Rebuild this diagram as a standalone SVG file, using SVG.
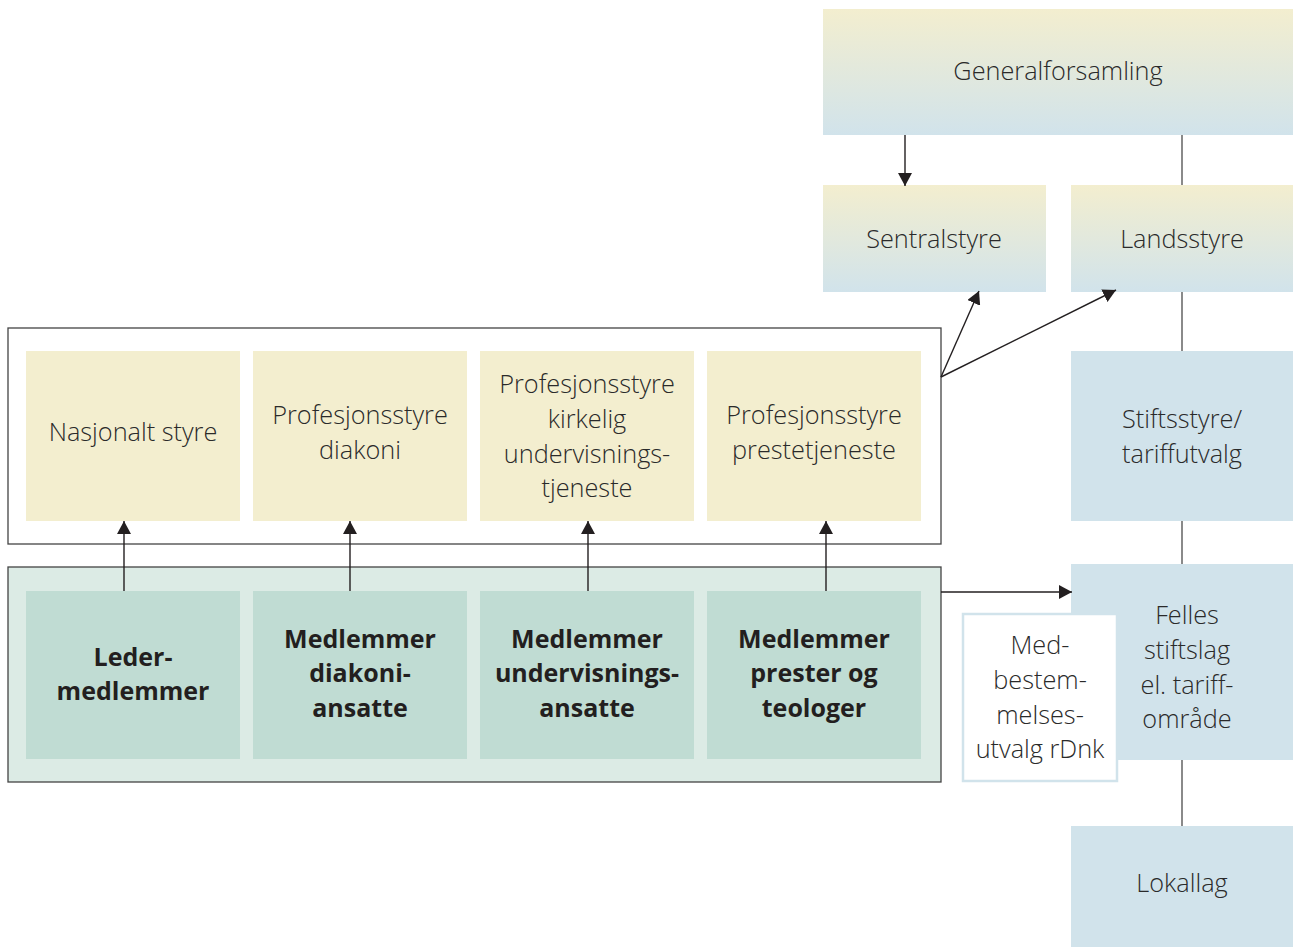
<svg xmlns="http://www.w3.org/2000/svg" width="1293" height="947" viewBox="0 0 1293 947">
<style>
.t{font-family:"Open Sans","Noto Sans",sans-serif;font-weight:300;font-size:25.3px;fill:#2a2a2a;text-anchor:middle}
.b{font-family:"Open Sans","Noto Sans",sans-serif;font-weight:700;font-size:25px;fill:#231f20;text-anchor:middle}
.y{fill:#f3eecf}
.g{fill:#c0dcd3}
.bl{fill:#d1e3eb}
.arr{stroke:#231f20;stroke-width:1.4;fill:none;marker-end:url(#ah)}
.conn{stroke:#8a8a8a;stroke-width:2;fill:none}
</style>
<defs>
<linearGradient id="grad" x1="0" y1="0" x2="0" y2="1">
<stop offset="0" stop-color="#f3eecf"/>
<stop offset="1" stop-color="#d1e3eb"/>
</linearGradient>
<marker id="ah" viewBox="0 0 13 14" refX="13" refY="7" markerWidth="13" markerHeight="14" markerUnits="userSpaceOnUse" orient="auto">
<path d="M0,0 L13,7 L0,14 z" fill="#231f20"/>
</marker>
</defs>

<g id="connectors">
<line class="conn" x1="1182" y1="135" x2="1182" y2="185"/>
<line class="conn" x1="1182" y1="292" x2="1182" y2="351"/>
<line class="conn" x1="1182" y1="521" x2="1182" y2="564"/>
<line class="conn" x1="1182" y1="760" x2="1182" y2="826"/>
</g>

<g id="generalforsamling">
<rect x="823" y="9" width="470" height="126" fill="url(#grad)"/>
<text class="t" x="1058" y="80">Generalforsamling</text>
</g>
<g id="sentralstyre">
<rect x="823" y="185" width="223" height="107" fill="url(#grad)"/>
<text class="t" x="934" y="248">Sentralstyre</text>
</g>
<g id="landsstyre">
<rect x="1071" y="185" width="222" height="107" fill="url(#grad)"/>
<text class="t" x="1182" y="248">Landsstyre</text>
</g>
<g id="stiftsstyre">
<rect class="bl" x="1071" y="351" width="222" height="170"/>
<text class="t" x="1182" y="428">Stiftsstyre/</text>
<text class="t" x="1182" y="463">tariffutvalg</text>
</g>
<g id="felles">
<rect class="bl" x="1071" y="564" width="222" height="196"/>
<text class="t" x="1187" y="624">Felles</text>
<text class="t" x="1187" y="659">stiftslag</text>
<text class="t" x="1187" y="694">el. tariff-</text>
<text class="t" x="1187" y="728">område</text>
</g>
<g id="medbestemmelse">
<rect x="963" y="614" width="154" height="167" fill="#fff" stroke="#d1e3eb" stroke-width="2.5"/>
<text class="t" x="1040" y="654">Med-</text>
<text class="t" x="1040" y="689">bestem-</text>
<text class="t" x="1040" y="724">melses-</text>
<text class="t" x="1040" y="758">utvalg rDnk</text>
</g>
<g id="lokallag">
<rect class="bl" x="1071" y="826" width="222" height="121"/>
<text class="t" x="1182" y="892">Lokallag</text>
</g>

<g id="styrer">
<rect x="8" y="328" width="933" height="216" fill="#fff" stroke="#444" stroke-width="1.3"/>
<g id="nasjonalt">
<rect class="y" x="26" y="351" width="214" height="170"/>
<text class="t" x="133" y="441">Nasjonalt styre</text>
</g>
<g id="prof-diakoni">
<rect class="y" x="253" y="351" width="214" height="170"/>
<text class="t" x="360" y="424">Profesjonsstyre</text>
<text class="t" x="360" y="459">diakoni</text>
</g>
<g id="prof-kirkelig">
<rect class="y" x="480" y="351" width="214" height="170"/>
<text class="t" x="587" y="393">Profesjonsstyre</text>
<text class="t" x="587" y="428">kirkelig</text>
<text class="t" x="587" y="463">undervisnings-</text>
<text class="t" x="587" y="497">tjeneste</text>
</g>
<g id="prof-prest">
<rect class="y" x="707" y="351" width="214" height="170"/>
<text class="t" x="814" y="424">Profesjonsstyre</text>
<text class="t" x="814" y="459">prestetjeneste</text>
</g>
</g>

<g id="medlemmer">
<rect x="8" y="567" width="933" height="215" fill="#dcebe5" stroke="#444" stroke-width="1.3"/>
<g id="leder">
<rect class="g" x="26" y="591" width="214" height="168"/>
<text class="b" x="133" y="666">Leder-</text>
<text class="b" x="133" y="700">medlemmer</text>
</g>
<g id="m-diakoni">
<rect class="g" x="253" y="591" width="214" height="168"/>
<text class="b" x="360" y="648">Medlemmer</text>
<text class="b" x="360" y="682">diakoni-</text>
<text class="b" x="360" y="717">ansatte</text>
</g>
<g id="m-undervisning">
<rect class="g" x="480" y="591" width="214" height="168"/>
<text class="b" x="587" y="648">Medlemmer</text>
<text class="b" x="587" y="682">undervisnings-</text>
<text class="b" x="587" y="717">ansatte</text>
</g>
<g id="m-prester">
<rect class="g" x="707" y="591" width="214" height="168"/>
<text class="b" x="814" y="648">Medlemmer</text>
<text class="b" x="814" y="682">prester og</text>
<text class="b" x="814" y="717">teologer</text>
</g>
</g>

<g id="arrows">
<line class="arr" x1="905" y1="135" x2="905" y2="186"/>
<line class="arr" x1="941" y1="377" x2="979" y2="291"/>
<line class="arr" x1="941" y1="377" x2="1116" y2="290"/>
<line class="arr" x1="941" y1="592" x2="1072" y2="592"/>
<line class="arr" x1="124" y1="591" x2="124" y2="521"/>
<line class="arr" x1="350" y1="591" x2="350" y2="521"/>
<line class="arr" x1="588" y1="591" x2="588" y2="521"/>
<line class="arr" x1="826" y1="591" x2="826" y2="521"/>
</g>
</svg>
